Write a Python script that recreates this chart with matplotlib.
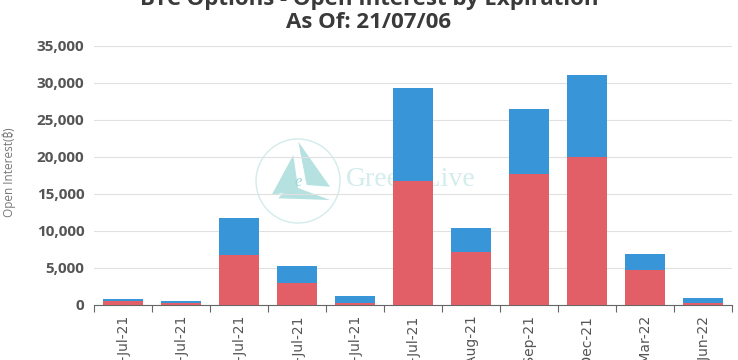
import matplotlib
matplotlib.use("Agg")
import matplotlib.pyplot as plt
from matplotlib.patches import Circle, Polygon

# Open interest by expiry (calls / puts stacked)
expiries = ["07-Jul-21", "08-Jul-21", "09-Jul-21", "16-Jul-21", "23-Jul-21",
            "30-Jul-21", "27-Aug-21", "24-Sep-21", "31-Dec-21", "25-Mar-22", "24-Jun-22"]
calls = [500, 330, 6680, 3030, 330, 16770, 7180, 17630, 20000, 4720, 330]
puts = [270, 170, 5060, 2210, 840, 12500, 3220, 8870, 10980, 2140, 670]
yticks = [0, 5000, 10000, 15000, 20000, 25000, 30000, 35000]

RED = "#e35f67"
BLUE = "#3895d8"
TEXT = "#555555"
SYMBOL_FONTS = ["Open Sans", "Noto Sans", "Inter", "Roboto", "Lato", "DejaVu Sans"]

fig = plt.figure(figsize=(7.38, 3.6), dpi=100)
ax = fig.add_axes([94 / 738, 1 - 305 / 360, 638 / 738, (305 - 45.5) / 360])
ax.set_facecolor("none")

# watermark (placed in pixels from top-left, drawn before the axes)
tr = fig.dpi_scale_trans
def px(x, y):
    return (x / 100, (360 - y) / 100)

fig.patches.append(Circle(px(298, 181), 0.42, transform=tr, fill=False,
                          edgecolor="#d3ebeb", linewidth=1.0, zorder=-1))
for tri in ([(271.7, 195), (293.3, 155), (298.3, 190)],
            [(298.3, 141.7), (330, 186.7), (306.7, 185)],
            [(278.3, 198.3), (330, 200), (290, 185)]):
    fig.patches.append(Polygon([px(*p) for p in tri], closed=True, transform=tr,
                               facecolor="#b5e1e1", edgecolor="none", zorder=-1))
fig.text(*px(298, 182), "e", transform=tr, fontsize=12, family="Liberation Serif",
         style="italic", color="#9fd6d6", ha="center", va="center", zorder=-1)
fig.text(*px(346, 180), "GreeksLive", transform=tr, fontsize=20,
         family="Liberation Serif", color="#d3ecec", ha="left", va="center", zorder=-1)

x = range(len(expiries))
ax.bar(x, calls, width=0.68, color=RED, zorder=3)
ax.bar(x, puts, width=0.68, bottom=calls, color=BLUE, zorder=3)

ax.set_xlim(-0.5, len(expiries) - 0.5)
ax.set_ylim(0, 35000)
ax.set_yticks(yticks)
ax.set_yticklabels([f"{v:,}" for v in yticks], fontsize=11, fontweight="bold",
                   family="Open Sans", color=TEXT)
ax.grid(axis="y", color="#e0e0e0", linewidth=0.8, zorder=0)
ax.set_axisbelow(True)

# category boundaries get the tick marks, centres get the labels
ax.set_xticks([i - 0.5 for i in range(len(expiries) + 1)])
ax.set_xticklabels([])
ax.tick_params(axis="x", which="major", length=5, color="#666666", width=0.8)
ax.set_xticks(list(x), minor=True)
ax.set_xticklabels(expiries, minor=True, rotation=90, fontsize=10,
                   color=TEXT, va="top", ha="center")
ax.tick_params(axis="x", which="minor", length=0, pad=7)
ax.tick_params(axis="y", length=0, pad=7)

for s in ("top", "right", "left"):
    ax.spines[s].set_visible(False)
ax.spines["bottom"].set_color("#666666")
ax.spines["bottom"].set_linewidth(0.8)

fig.text(9 / 738, 1 - 172 / 360, "Open Interest(\u20bf)", rotation=90,
         fontsize=8.5, color="#777777", ha="center", va="center",
         family=SYMBOL_FONTS)

fig.text(0.5, 1 - 0 / 360, "BTC Options - Open Interest by Expiration",
         ha="center", va="center", fontsize=16, fontweight="bold",
         color="#3a3a3a", family="Open Sans")
fig.text(0.5, 1 - 22 / 360, "As Of: 21/07/06",
         ha="center", va="center", fontsize=16, fontweight="bold",
         color="#3a3a3a", family="Open Sans")

fig.savefig("out.png", dpi=100)
